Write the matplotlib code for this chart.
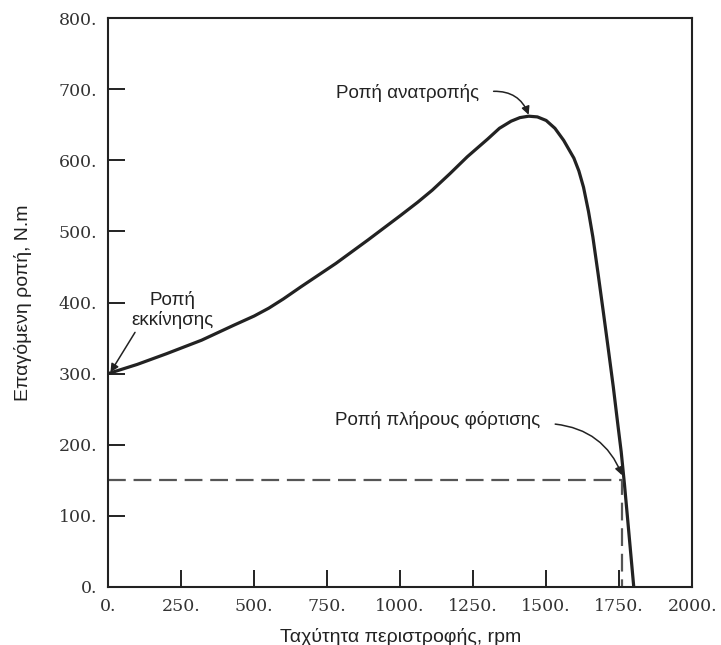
import matplotlib.pyplot as plt

# torque-speed curve
speed = [0, 100, 200, 320, 430, 500, 550, 600, 660, 780, 890, 1000, 1060, 1110, 1170,
         1230, 1300, 1340, 1380, 1410, 1440, 1470, 1500, 1530, 1560, 1595, 1612,
         1628, 1645, 1660, 1678, 1696, 1713, 1730, 1745, 1757, 1768, 1778, 1800]
torque = [300, 313, 328, 347, 368, 381, 392, 405, 422, 455, 488, 522, 541, 558, 581,
          605, 630, 645, 655, 660, 662, 661, 656, 645, 628, 603, 585,
          562, 528, 492, 440, 386, 334, 281, 230, 190, 145, 100, 0]

full_load_speed = 1760
full_load_torque = 150

x_ticks = [0, 250, 500, 750, 1000, 1250, 1500, 1750, 2000]
x_labels = ["0.", "250.", "500.", "750.", "1000.", "1250.", "1500.", "1750.", "2000."]
y_ticks = [0, 100, 200, 300, 400, 500, 600, 700, 800]
y_labels = ["0.", "100.", "200.", "300.", "400.", "500.", "600.", "700.", "800."]

sans = "Liberation Sans"
ink = "#222222"

fig = plt.figure(figsize=(7.21, 6.45), dpi=100)
ax = fig.add_axes([0.150, 0.090, 0.810, 0.882])

ax.plot(speed, torque, color=ink, lw=2.3, solid_capstyle="round", solid_joinstyle="round")
ax.plot([0, full_load_speed, full_load_speed], [full_load_torque, full_load_torque, 0],
        color="#555555", lw=1.6, dashes=(8, 3.5))

ax.set_xlim(0, 2000)
ax.set_ylim(0, 800)
ax.set_xticks(x_ticks)
ax.set_xticklabels(x_labels)
ax.set_yticks(y_ticks)
ax.set_yticklabels(y_labels)
ax.tick_params(direction="in", length=12, width=1.4, color=ink, labelcolor="#333333",
               pad=8, top=False, right=False)
for lab in ax.get_xticklabels() + ax.get_yticklabels():
    lab.set_fontfamily("DejaVu Serif")
    lab.set_fontsize(12.5)
for sp in ax.spines.values():
    sp.set_linewidth(1.5)
    sp.set_color(ink)

ax.set_xlabel("Ταχύτητα περιστροφής, rpm", fontsize=14, family=sans, color=ink, labelpad=9)
ax.set_ylabel("Επαγόμενη ροπή, N.m", fontsize=14, family=sans, color=ink, labelpad=19)

# annotations
arrow = dict(arrowstyle="-|>", color=ink, lw=1.1, mutation_scale=12, shrinkA=0, shrinkB=0)

ax.text(1027, 695, "Ροπή ανατροπής", ha="center", va="center", fontsize=13.5, family=sans, color=ink)
ax.annotate("", xy=(1440, 664), xytext=(1320, 697),
            arrowprops=dict(arrow, connectionstyle="arc3,rad=-0.35"))

ax.text(219, 390, "Ροπή\nεκκίνησης", ha="center", va="center", fontsize=13.5, family=sans,
        color=ink, linespacing=1.15)
ax.annotate("", xy=(8, 302), xytext=(92, 358), arrowprops=dict(arrow))

ax.text(1127, 235, "Ροπή πλήρους φόρτισης", ha="center", va="center", fontsize=13.5,
        family=sans, color=ink)
ax.annotate("", xy=(1760, 157), xytext=(1531, 229),
            arrowprops=dict(arrow, connectionstyle="arc3,rad=-0.3"))

fig.savefig("out.png", dpi=100)
